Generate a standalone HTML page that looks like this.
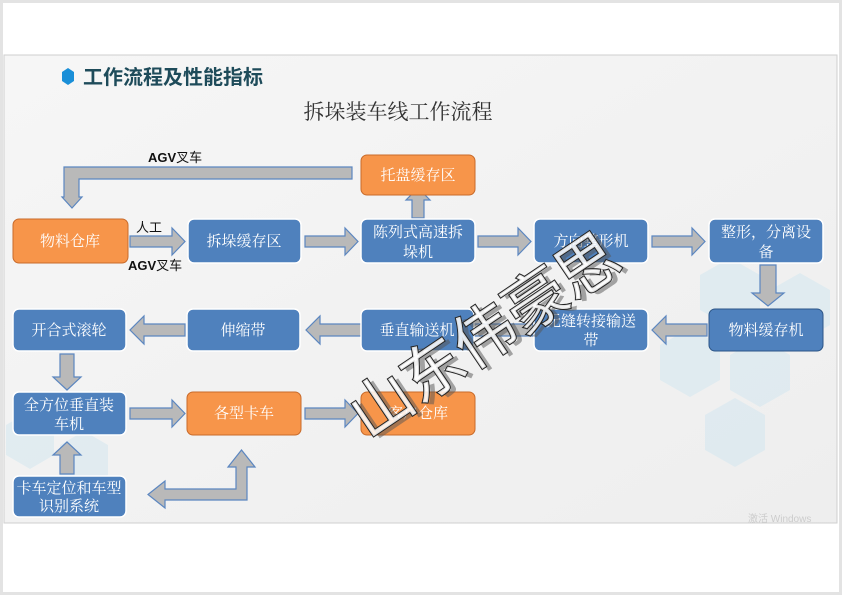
<!DOCTYPE html>
<html><head><meta charset="utf-8"><style>
html,body{margin:0;padding:0;background:#fff;}
body{width:842px;height:595px;overflow:hidden;position:relative;}
.f{position:absolute;left:0;top:0;width:836px;height:589px;border:3px solid #e3e3e3;}
svg{position:absolute;left:0;top:0;}
.bx{font-family:"Liberation Serif","Noto Serif CJK SC","Noto Serif CJK JP",serif;font-size:15px;fill:#fff;text-anchor:middle;}
.lb{font-family:"Liberation Sans","Noto Sans CJK SC",sans-serif;font-size:13px;fill:#111;}
</style></head><body>
<div class="f"></div>
<svg width="842" height="595" viewBox="0 0 842 595">
<defs>
<linearGradient id="bg" x1="0" y1="0" x2="1" y2="1"><stop offset="0" stop-color="#f6f6f6"/><stop offset="1" stop-color="#eeeeee"/></linearGradient>
</defs>
<rect x="4" y="55" width="833" height="468" fill="url(#bg)" stroke="#cfcfcf"/>
<g fill="#d6e8f0" opacity="0.6">
<polygon points="700,275 730,258 760,275 760,310 730,327 700,310"/>
<polygon points="660,345 690,328 720,345 720,380 690,397 660,380"/>
<polygon points="730,355 760,338 790,355 790,390 760,407 730,390"/>
<polygon points="705,415 735,398 765,415 765,450 735,467 705,450"/>
<polygon points="770,290 800,273 830,290 830,325 800,342 770,325"/>
<polygon points="6,425 30,411 54,425 54,455 30,469 6,455"/>
<polygon points="60,445 84,431 108,445 108,475 84,489 60,475"/>
</g>
<polygon points="62,72 68,68 74,72 74,81 68,85 62,81" fill="#1a8fd8"/>
<text x="83" y="84" font-family="Liberation Sans,'Noto Sans CJK SC',sans-serif" font-size="20" font-weight="bold" fill="#1e4b5a">工作流程及性能指标</text>
<text x="398" y="119" font-family="Liberation Serif,'Noto Serif CJK SC','Noto Serif CJK JP',serif" font-size="21" fill="#333" text-anchor="middle">拆垛装车线工作流程</text>
<g fill="#b9b9b9" stroke="#5b86c0" stroke-width="1.2">
<polygon points="352,167 64,167 64,197 62,197 72,208 82,197 79,197 79,179 352,179"/>
<polygon points="412,218 412,200 406,200 418,188 430,200 424,200 424,218"/>
<polygon points="130,236 172,236 172,228 185,241.5 172,255 172,247 130,247"/>
<polygon points="305,236 345,236 345,228 358,241.5 345,255 345,247 305,247"/>
<polygon points="478,236 518,236 518,228 531,241.5 518,255 518,247 478,247"/>
<polygon points="652,236 692,236 692,228 705,241.5 692,255 692,247 652,247"/>
<polygon points="760,265 776,265 776,293 784,293 768,306 752,293 760,293"/>
<polygon points="707,324 666,324 666,316 652,330 666,344 666,336 707,336"/>
<polygon points="533,324 320,324 320,316 306,330 320,344 320,336 533,336"/>
<polygon points="185,324 144,324 144,316 130,330 144,344 144,336 185,336"/>
<polygon points="60,354 74,354 74,377 81,377 67,390 53,377 60,377"/>
<polygon points="130,408 172,408 172,400 185,413.5 172,427 172,419 130,419"/>
<polygon points="305,408 345,408 345,400 358,413.5 345,427 345,419 305,419"/>
<polygon points="60,474 74,474 74,455 81,455 67,442 53,455 60,455"/>
<polygon points="247,500 247,467 255,467 241.5,450 228,467 236,467 236,489 165,489 165,481 148,494.5 165,508 165,500"/>
</g>
<g stroke="#fff" stroke-width="1.5">
<rect x="361" y="155" width="114" height="40" rx="6" fill="#f7954a" stroke="#c86a2a" stroke-width="1"/>
<rect x="13" y="219" width="115" height="44" rx="6" fill="#f7954a" stroke="#c86a2a" stroke-width="1"/>
<rect x="188" y="219" width="113" height="44" rx="6" fill="#4f81bd"/>
<rect x="361" y="219" width="114" height="44" rx="6" fill="#4f81bd"/>
<rect x="534" y="219" width="114" height="44" rx="6" fill="#4f81bd"/>
<rect x="709" y="219" width="114" height="44" rx="6" fill="#4f81bd"/>
<rect x="13" y="309" width="113" height="42" rx="6" fill="#4f81bd"/>
<rect x="187" y="309" width="113" height="42" rx="6" fill="#4f81bd"/>
<rect x="361" y="309" width="113" height="42" rx="6" fill="#4f81bd"/>
<rect x="534" y="309" width="114" height="42" rx="6" fill="#4f81bd"/>
<rect x="709" y="309" width="114" height="42" rx="6" fill="#4f81bd" stroke="#2c5587" stroke-width="1"/>
<rect x="13" y="392" width="113" height="43" rx="6" fill="#4f81bd"/>
<rect x="187" y="392" width="114" height="43" rx="6" fill="#f7954a" stroke="#c86a2a" stroke-width="1"/>
<rect x="361" y="392" width="114" height="43" rx="6" fill="#f7954a" stroke="#c86a2a" stroke-width="1"/>
<rect x="13" y="476" width="113" height="41" rx="6" fill="#4f81bd"/>
</g>
<g class="bx">
<text x="418" y="180">托盘缓存区</text>
<text x="70" y="246">物料仓库</text>
<text x="244" y="246">拆垛缓存区</text>
<text x="418" y="237">陈列式高速拆</text><text x="418" y="257">垛机</text>
<text x="591" y="246">方向整形机</text>
<text x="766" y="237">整形，分离设</text><text x="766" y="257">备</text>
<text x="69" y="335">开合式滚轮</text>
<text x="243" y="335">伸缩带</text>
<text x="417" y="335">垂直输送机</text>
<text x="591" y="326">无缝转接输送</text><text x="591" y="345">带</text>
<text x="766" y="335">物料缓存机</text>
<text x="69" y="410">全方位垂直装</text><text x="69" y="429">车机</text>
<text x="244" y="418">各型卡车</text>
<text x="418" y="418">客户仓库</text>
<text x="69" y="493">卡车定位和车型</text><text x="69" y="511">识别系统</text>
</g>
<text class="lb" x="148" y="162"><tspan font-weight="bold">AGV</tspan>叉车</text>
<text class="lb" x="136" y="232">人工</text>
<text class="lb" x="128" y="270"><tspan font-weight="bold">AGV</tspan>叉车</text>
<g transform="translate(368,440) rotate(-34)" font-family="Liberation Sans,'Noto Sans CJK SC',sans-serif" font-size="62">
<text x="4" y="5" fill="#555" opacity="0.5">山东伟豪思</text>
<text x="0" y="0" fill="#fff" fill-opacity="0.85" stroke="#222" stroke-width="2" style="paint-order:stroke">山东伟豪思</text>
</g>
<text x="748" y="522" font-family="Liberation Sans,sans-serif" font-size="10" fill="#ccc">激活 Windows</text>
</svg>
</body></html>
